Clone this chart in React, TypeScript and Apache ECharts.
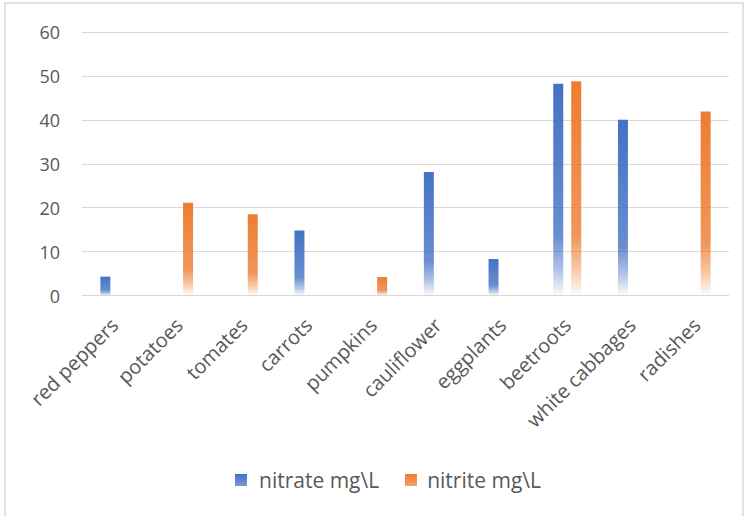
import React, { useEffect, useRef } from "react";
import * as echarts from "echarts";

const categories = [
  "red peppers",
  "potatoes",
  "tomates",
  "carrots",
  "pumpkins",
  "cauliflower",
  "eggplants",
  "beetroots",
  "white cabbages",
  "radishes",
];

const nitrate = [4.3, null, null, 14.8, null, 28.1, 8.3, 48.2, 40.0, null];
const nitrite = [null, 21.1, 18.5, null, 4.2, null, null, 48.8, null, 41.9];

const yTicks = [0, 10, 20, 30, 40, 50, 60];

const seriesNames = ["nitrate mg\\L", "nitrite mg\\L"];

const BLUE = [68, 114, 196];
const ORANGE = [237, 125, 49];

// bar fill: full colour at the top, softening downwards and fading out at the base
function fade([r, g, b]: number[]) {
  return new echarts.graphic.LinearGradient(0, 0, 0, 1, [
    { offset: 0, color: `rgba(${r},${g},${b},1)` },
    { offset: 0.72, color: `rgba(${r},${g},${b},0.8)` },
    { offset: 0.88, color: `rgba(${r},${g},${b},0.42)` },
    { offset: 1, color: `rgba(${r},${g},${b},0.02)` },
  ]);
}

function swatch([r, g, b]: number[]) {
  return new echarts.graphic.LinearGradient(0, 0, 0, 1, [
    { offset: 0, color: `rgba(${r},${g},${b},1)` },
    { offset: 1, color: `rgba(${r},${g},${b},0.72)` },
  ]);
}

export default function App() {
  const ref = useRef<HTMLDivElement>(null);

  useEffect(() => {
    if (!ref.current) return;
    const chart = echarts.init(ref.current, undefined, { renderer: "svg" });
    const textColor = "#595959";
    const font = "'Open Sans', 'Noto Sans', sans-serif";

    chart.setOption({
      animation: false,
      backgroundColor: "#ffffff",
      textStyle: { fontFamily: font },
      graphic: [
        {
          type: "rect",
          shape: { x: 5, y: 3, width: 738, height: 530 },
          style: { fill: "none", stroke: "#D9D9D9", lineWidth: 1.5 },
          silent: true,
        },
        // square legend swatches
        {
          type: "rect",
          shape: { x: 235, y: 474, width: 12, height: 12 },
          style: { fill: swatch(BLUE) },
          silent: true,
        },
        {
          type: "rect",
          shape: { x: 405, y: 474, width: 12, height: 12 },
          style: { fill: swatch(ORANGE) },
          silent: true,
        },
      ],
      grid: { left: 82, right: 18, top: 32, bottom: 220.5, containLabel: false },
      legend: {
        left: 233,
        top: 464,
        itemWidth: 13,
        itemHeight: 12,
        itemGap: 27,
        icon: "rect",
        itemStyle: { opacity: 0 },
        textStyle: {
          color: textColor,
          fontSize: 21,
          fontFamily: font,
          padding: [0, 0, 0, 3],
        },
        data: seriesNames,
      },
      xAxis: {
        type: "category",
        data: categories,
        axisLine: { show: true, lineStyle: { color: "#D9D9D9", width: 1 } },
        axisTick: { show: false },
        axisLabel: {
          rotate: 45,
          interval: 0,
          margin: 26,
          color: textColor,
          fontSize: 20,
          fontFamily: font,
        },
      },
      yAxis: {
        type: "value",
        min: yTicks[0],
        max: yTicks[yTicks.length - 1],
        interval: 10,
        axisLine: { show: false },
        axisTick: { show: false },
        splitLine: { lineStyle: { color: "#D9D9D9", width: 1 } },
        axisLabel: {
          margin: 22,
          color: textColor,
          fontSize: 18,
          fontFamily: font,
        },
      },
      series: [
        {
          name: seriesNames[0],
          type: "bar",
          data: nitrate,
          barWidth: 10,
          barGap: "80%",
          itemStyle: { color: fade(BLUE) },
        },
        {
          name: seriesNames[1],
          type: "bar",
          data: nitrite,
          barWidth: 10,
          itemStyle: { color: fade(ORANGE) },
        },
      ],
    });

    return () => chart.dispose();
  }, []);

  return (
    <div
      ref={ref}
      style={{ position: "absolute", left: 0, top: 0, width: 747, height: 516 }}
    />
  );
}
